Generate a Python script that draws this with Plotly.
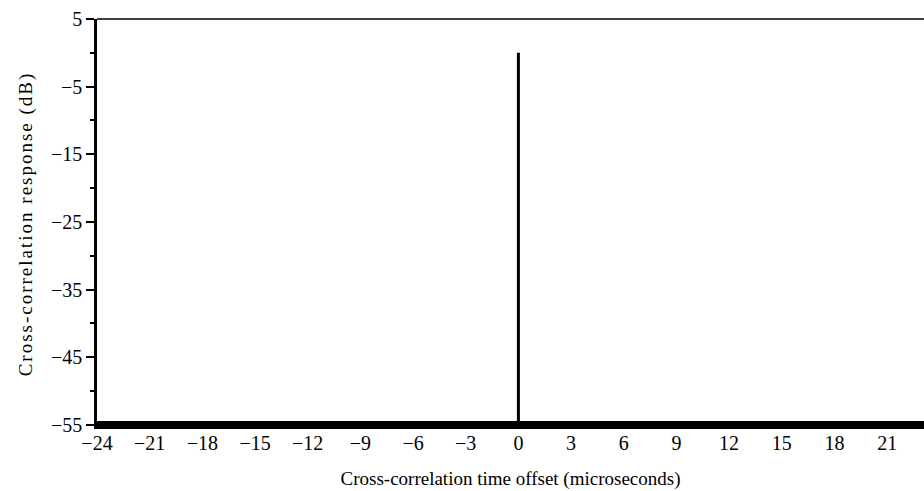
import plotly.graph_objects as go

# Data
floor_x = [-24, 24]
floor_db = [-55, -55]
peak_x = [0, 0]
peak_db = [-55, 0]

x_tick_vals = [-24, -21, -18, -15, -12, -9, -6, -3, 0, 3, 6, 9, 12, 15, 18, 21]
y_tick_vals = [5, -5, -15, -25, -35, -45, -55]
y_minor_vals = [0, -10, -20, -30, -40, -50]

FONT = "Liberation Serif, Times New Roman, serif"

fig = go.Figure()
fig.add_trace(go.Scatter(x=floor_x, y=floor_db, mode="lines",
                         line=dict(color="black", width=8), showlegend=False,
                         hoverinfo="skip"))
fig.add_trace(go.Scatter(x=peak_x, y=peak_db, mode="lines",
                         line=dict(color="black", width=3), showlegend=False,
                         hoverinfo="skip"))

fig.update_layout(
    width=924, height=491,
    margin=dict(l=97, r=0, t=19, b=62),
    paper_bgcolor="white", plot_bgcolor="white",
    font=dict(family=FONT, size=20, color="black"),
    xaxis=dict(
        range=[-24, 23.1],
        tickmode="array", tickvals=x_tick_vals,
        ticktext=[str(v).replace("-", "\u2212") for v in x_tick_vals],
        showgrid=False, zeroline=False, showline=False,
        ticks="", ticklabelstandoff=0, automargin=False,
        title=dict(text="Cross-correlation time offset (microseconds)",
                   font=dict(size=19), standoff=18),
    ),
    yaxis=dict(
        range=[-55.6, 5],
        tickmode="array", tickvals=y_tick_vals,
        ticktext=[str(v).replace("-", "\u2212") for v in y_tick_vals],
        showgrid=False, zeroline=False, automargin=False,
        showline=True, linecolor="black", linewidth=2.5,
        ticks="outside", ticklen=8, tickwidth=1.5, tickcolor="black",
        minor=dict(ticks="outside", ticklen=4, tickwidth=1.5, tickcolor="black",
                   tickmode="array", tickvals=y_minor_vals),
        title=dict(text='<span style="letter-spacing:2px">Cross-correlation response (dB)</span>',
                   font=dict(size=19), standoff=14),
    ),
    shapes=[dict(type="line", xref="paper", yref="paper", x0=0, x1=1, y0=1, y1=1,
                 line=dict(color="black", width=1.5))],
)

fig.write_html("out.html", config={"displayModeBar": False},
               post_script="document.body.style.margin='0';document.body.style.padding='0';")
